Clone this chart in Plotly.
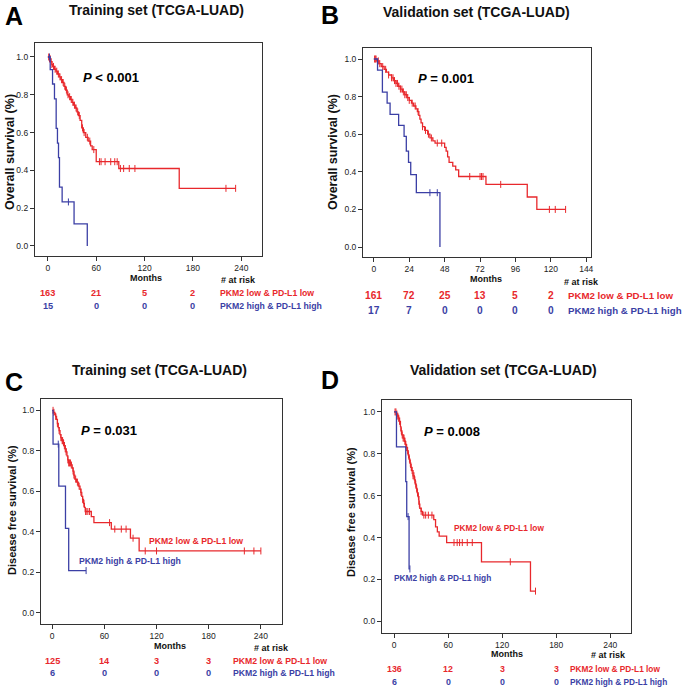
import numpy as np
import plotly.graph_objects as go

W, H = 685, 689
RED = "#e8282c"
BLUE = "#3b3fa5"
FONT = "Liberation Sans, Arial, sans-serif"

# ---------------- Panel A: OS training ----------------
a_red_t = [0, 2, 4, 5, 6, 8, 10, 12, 14, 16, 18, 20, 22, 24, 26, 28, 30, 32, 34, 36, 38, 40, 42, 44, 47, 50, 53, 55, 60, 88, 163]
a_red_s = [1.0, 0.99, 0.975, 0.96, 0.95, 0.935, 0.925, 0.91, 0.895, 0.88, 0.865, 0.845, 0.825, 0.80, 0.79, 0.775, 0.76, 0.745, 0.73, 0.71, 0.69, 0.665, 0.625, 0.60, 0.575, 0.555, 0.53, 0.51, 0.446, 0.41, 0.305]
a_red_end = 233
a_red_cens = [1, 2, 3, 5, 7, 9, 11, 13, 15, 17, 19, 21, 23, 25, 27, 29, 31, 33, 35, 37, 39, 43, 45, 49, 52, 57, 64, 66, 71, 78, 83, 86, 90, 94, 101, 108, 221, 233]
a_blue_t = [0, 2.9, 5.8, 8.2, 10.3, 11.9, 13.2, 14.4, 17.7, 32.5, 48.9]
a_blue_s = [1.0, 0.933, 0.857, 0.778, 0.622, 0.544, 0.467, 0.311, 0.233, 0.117, 0.0]
a_blue_end = 48.9
a_blue_cens = [2, 25.5]
a_risk_t = [0, 60, 120, 180]
a_risk_red = [163, 21, 5, 2]
a_risk_blue = [15, 0, 0, 0]
a_ticks = [0, 60, 120, 180, 240]

# ---------------- Panel B: OS validation ----------------
b_red_t = [0, 2, 3.5, 5, 7, 8.5, 10, 12, 13.5, 15, 16.5, 18, 19.5, 21, 22.5, 24, 25.5, 27, 28.5, 29.5, 30.5, 31.2, 32, 33, 34.5, 36.5, 38, 40, 41.5, 48, 49, 50, 51, 53.5, 55.5, 57.5, 76, 104, 110.5]
b_red_s = [1.0, 0.99, 0.975, 0.96, 0.945, 0.93, 0.915, 0.9, 0.885, 0.87, 0.855, 0.84, 0.825, 0.81, 0.795, 0.78, 0.765, 0.75, 0.735, 0.72, 0.70, 0.68, 0.66, 0.64, 0.62, 0.60, 0.58, 0.565, 0.553, 0.53, 0.51, 0.48, 0.45, 0.43, 0.41, 0.375, 0.333, 0.266, 0.2]
b_red_end = 130
b_red_cens = [0.5, 1, 1.5, 3, 4, 6, 8, 10, 12, 13, 14, 15, 16, 17, 18, 19, 20, 21, 22, 23, 24, 26, 28, 30, 33, 35, 37, 39, 43, 46, 65, 72, 73, 74, 86, 119, 123, 130]
b_blue_t = [0, 2.5, 5.8, 9, 11, 16.8, 20.5, 22, 23.5, 25, 28.8, 44.8]
b_blue_s = [1.0, 0.941, 0.824, 0.765, 0.706, 0.647, 0.588, 0.51, 0.45, 0.385, 0.289, 0.0]
b_blue_end = 44.8
b_blue_cens = [38, 43]
b_risk_t = [0, 24, 48, 72, 96, 120]
b_risk_red = [161, 72, 25, 13, 5, 2]
b_risk_blue = [17, 7, 0, 0, 0, 0]
b_ticks = [0, 24, 48, 72, 96, 120, 144]

# ---------------- Panel C: DFS training ----------------
c_red_t = [0, 1.5, 3, 4, 5, 6, 7, 8, 9, 10, 11, 13, 14, 15, 16, 17, 18, 19, 22, 23, 24, 25, 26, 28, 30, 32, 33, 34, 35, 36, 37, 38, 45, 48, 68, 90, 100]
c_red_s = [1.0, 0.99, 0.98, 0.97, 0.955, 0.935, 0.915, 0.9, 0.88, 0.865, 0.85, 0.84, 0.825, 0.81, 0.795, 0.775, 0.755, 0.74, 0.73, 0.715, 0.70, 0.68, 0.66, 0.645, 0.625, 0.61, 0.595, 0.575, 0.56, 0.54, 0.52, 0.5, 0.475, 0.445, 0.413, 0.368, 0.305]
c_red_end = 240
c_red_cens = [1, 2, 4, 6, 8, 10, 11.5, 12, 13, 14, 15, 16, 18, 19, 20, 21, 22, 24, 25, 27, 29, 31, 33, 35, 36.5, 38.5, 39, 41, 43, 66, 72, 79.5, 85, 93, 107, 120, 221, 232, 240]
c_blue_t = [0, 1, 7.6, 15.3, 19]
c_blue_s = [1.0, 0.833, 0.625, 0.417, 0.208]
c_blue_end = 39
c_blue_cens = [7, 39]
c_risk_t = [0, 60, 120, 180]
c_risk_red = [125, 14, 3, 3]
c_risk_blue = [6, 0, 0, 0]
c_ticks = [0, 60, 120, 180, 240]

# ---------------- Panel D: DFS validation ----------------
d_red_t = [0, 2.5, 4, 5, 6, 7, 7.5, 8.5, 10, 11.5, 12.5, 13.5, 14.5, 15.5, 16.5, 17.5, 18.5, 19.5, 21, 22.5, 23.5, 24.5, 25.5, 26.5, 27.5, 28.5, 30, 31.5, 44, 46, 48, 50, 58.3, 97, 151.4]
d_red_s = [1.0, 0.99, 0.98, 0.97, 0.955, 0.93, 0.91, 0.89, 0.875, 0.86, 0.845, 0.83, 0.815, 0.795, 0.775, 0.755, 0.735, 0.72, 0.695, 0.675, 0.655, 0.635, 0.615, 0.595, 0.56, 0.54, 0.525, 0.507, 0.486, 0.451, 0.427, 0.407, 0.376, 0.284, 0.144]
d_red_end = 157
d_red_cens = [1, 2, 3, 4, 5, 6, 8, 9, 10, 11, 12, 13, 14, 15, 16, 17, 18, 19, 20, 21, 22, 23, 24, 25, 26, 27, 28, 30, 33, 35, 38, 42, 66.5, 70, 72.7, 75.7, 81.2, 86.8, 129, 157]
d_blue_t = [0, 2.6, 12.9, 14, 16.6]
d_blue_s = [1.0, 0.833, 0.667, 0.5, 0.25]
d_blue_end = 17.5
d_blue_cens = [15.5, 17.5]
d_risk_t = [0, 60, 120, 180]
d_risk_red = [136, 12, 3, 3]
d_risk_blue = [6, 0, 0, 0]
d_ticks = [0, 60, 120, 180, 240]

titles = ["Training set (TCGA-LUAD)", "Validation set (TCGA-LUAD)",
          "Training set (TCGA-LUAD)", "Validation set (TCGA-LUAD)"]
letters = ["A", "B", "C", "D"]
pvals = ["<b><i>P</i> &lt; 0.001</b>", "<b><i>P</i> = 0.001</b>",
         "<b><i>P</i> = 0.031</b>", "<b><i>P</i> = 0.008</b>"]
ytitles = ["Overall survival (%)", "Overall survival (%)",
           "Disease free survival (%)", "Disease free survival (%)"]
lab_low = "PKM2 low & PD-L1 low"
lab_high = "PKM2 high & PD-L1 high"

# ---------------- layout geometry (pixels) ----------------
panels = [
    dict(box=(35, 43, 263, 256), xr=(-16.1, 266), yr=(-0.053, 1.074), ticks=a_ticks,
         red=(a_red_t, a_red_s, a_red_end, a_red_cens), blue=(a_blue_t, a_blue_s, a_blue_end, a_blue_cens),
         risk=(a_risk_t, a_risk_red, a_risk_blue), title=(157, 10), letter=(14, 16), p=(81, 78),
         ytit=(10, 152), months=(146, 278), atrisk=(239, 280), rows=(293, 306), leg_x=219, fs=8.7,
         inlab=None),
    dict(box=(364, 48, 593, 257), xr=(-7.4, 147.4), yr=(-0.053, 1.0585), ticks=b_ticks,
         red=(b_red_t, b_red_s, b_red_end, b_red_cens), blue=(b_blue_t, b_blue_s, b_blue_end, b_blue_cens),
         risk=(b_risk_t, b_risk_red, b_risk_blue), title=(478, 12), letter=(331, 15), p=(417, 79),
         ytit=(334, 152), months=(487, 279), atrisk=(583, 282), rows=(295, 311), leg_x=568, fs=9.7,
         inlab=None),
    dict(box=(41, 399, 283, 624), xr=(-13, 264.5), yr=(-0.056, 1.056), ticks=c_ticks,
         red=(c_red_t, c_red_s, c_red_end, c_red_cens), blue=(c_blue_t, c_blue_s, c_blue_end, c_blue_cens),
         risk=(c_risk_t, c_risk_red, c_risk_blue), title=(160, 370), letter=(14, 382), p=(79, 430),
         ytit=(12, 510), months=(170, 646), atrisk=(272, 648), rows=(661, 673), leg_x=232, fs=8.7,
         inlab=((147, 541), (77, 561))),
    dict(box=(383, 400, 633, 633), xr=(-13.6, 263.2), yr=(-0.056, 1.057), ticks=d_ticks,
         red=(d_red_t, d_red_s, d_red_end, d_red_cens), blue=(d_blue_t, d_blue_s, d_blue_end, d_blue_cens),
         risk=(d_risk_t, d_risk_red, d_risk_blue), title=(505, 370), letter=(331, 380), p=(423, 431),
         ytit=(352, 512), months=(508, 654), atrisk=(610, 655), rows=(669, 682), leg_x=570, fs=8.3,
         inlab=((453, 528), (393, 578))),
]


def fx(x):
    return x / W


def fy(y):
    return 1 - y / H


def steps(t, s, end):
    xs = list(t)
    ys = list(s)
    if end > xs[-1]:
        xs.append(end)
        ys.append(ys[-1])
    return xs, ys


def cens_y(t, s, c):
    idx = np.searchsorted(np.array(t), np.array(c), side="right") - 1
    return [s[i] for i in idx]


fig = go.Figure()
annotations = []

for i, P in enumerate(panels):
    k = "" if i == 0 else str(i + 1)
    xa, ya = "x" + k, "y" + k
    x0, y0, x1, y1 = P["box"]
    for (t, s, end, cens), col in ((P["red"], RED), (P["blue"], BLUE)):
        xs, ys = steps(t, s, end)
        fig.add_trace(go.Scatter(x=xs, y=ys, mode="lines", line=dict(color=col, width=1.3, shape="hv"),
                                 xaxis=xa, yaxis=ya, showlegend=False, hoverinfo="skip"))
        fig.add_trace(go.Scatter(x=cens, y=cens_y(t, s, cens), mode="markers",
                                 marker=dict(symbol="line-ns", size=5, line=dict(color=col, width=1)),
                                 xaxis=xa, yaxis=ya, showlegend=False, hoverinfo="skip"))
    axis_common = dict(showline=True, mirror=True, linecolor="#333", linewidth=1, showgrid=False,
                       zeroline=False, ticks="outside", ticklen=4, tickwidth=1, tickcolor="#333",
                       tickfont=dict(family=FONT, size=8.5, color="#222"))
    fig.update_layout(**{
        "xaxis" + k: dict(domain=[fx(x0), fx(x1)], range=list(P["xr"]), tickvals=P["ticks"],
                          anchor=ya, **axis_common),
        "yaxis" + k: dict(domain=[fy(y1), fy(y0)], range=list(P["yr"]),
                          tickvals=[0, 0.2, 0.4, 0.6, 0.8, 1.0], tickformat=".1f",
                          anchor=xa, **axis_common),
    })
    annotations.append(dict(x=fx(P["title"][0]), y=fy(P["title"][1]), xref="paper", yref="paper",
                            text="<b>" + titles[i] + "</b>", showarrow=False,
                            font=dict(family=FONT, size=14, color="#111"), xanchor="center", yanchor="middle"))
    annotations.append(dict(x=fx(P["letter"][0]), y=fy(P["letter"][1]), xref="paper", yref="paper",
                            text="<b>" + letters[i] + "</b>", showarrow=False,
                            font=dict(family=FONT, size=25, color="#000"), xanchor="center", yanchor="middle"))
    annotations.append(dict(x=fx(P["p"][0]), y=fy(P["p"][1]), xref="paper", yref="paper",
                            text=pvals[i], showarrow=False,
                            font=dict(family=FONT, size=13, color="#000"), xanchor="left", yanchor="middle"))
    annotations.append(dict(x=fx(P["ytit"][0]), y=fy(P["ytit"][1]), xref="paper", yref="paper",
                            text="<b>" + ytitles[i] + "</b>", showarrow=False, textangle=-90,
                            font=dict(family=FONT, size=12.5 if i < 2 else 11, color="#111"),
                            xanchor="center", yanchor="middle"))
    annotations.append(dict(x=fx(P["months"][0]), y=fy(P["months"][1]), xref="paper", yref="paper",
                            text="<b>Months</b>", showarrow=False,
                            font=dict(family=FONT, size=9, color="#111"), xanchor="center", yanchor="middle"))
    annotations.append(dict(x=fx(P["atrisk"][0]), y=fy(P["atrisk"][1]), xref="paper", yref="paper",
                            text="<b># at risk</b>", showarrow=False,
                            font=dict(family=FONT, size=9, color="#111"), xanchor="center", yanchor="middle"))
    rt, rr, rb = P["risk"]
    for tt, nr, nb in zip(rt, rr, rb):
        annotations.append(dict(x=tt, y=fy(P["rows"][0]), xref=xa, yref="paper", text="<b>%d</b>" % nr,
                                showarrow=False, font=dict(family=FONT, size=P["fs"] + 0.5, color=RED),
                                xanchor="center", yanchor="middle"))
        annotations.append(dict(x=tt, y=fy(P["rows"][1]), xref=xa, yref="paper", text="<b>%d</b>" % nb,
                                showarrow=False, font=dict(family=FONT, size=P["fs"] + 0.5, color=BLUE),
                                xanchor="center", yanchor="middle"))
    annotations.append(dict(x=fx(P["leg_x"]), y=fy(P["rows"][0]), xref="paper", yref="paper",
                            text="<b>" + lab_low + "</b>", showarrow=False,
                            font=dict(family=FONT, size=P["fs"], color=RED), xanchor="left", yanchor="middle"))
    annotations.append(dict(x=fx(P["leg_x"]), y=fy(P["rows"][1]), xref="paper", yref="paper",
                            text="<b>" + lab_high + "</b>", showarrow=False,
                            font=dict(family=FONT, size=P["fs"], color=BLUE), xanchor="left", yanchor="middle"))
    if P["inlab"]:
        (lx, ly), (hx, hy) = P["inlab"]
        annotations.append(dict(x=fx(lx), y=fy(ly), xref="paper", yref="paper",
                                text="<b>" + lab_low + "</b>", showarrow=False,
                                font=dict(family=FONT, size=P["fs"], color=RED), xanchor="left", yanchor="middle"))
        annotations.append(dict(x=fx(hx), y=fy(hy), xref="paper", yref="paper",
                                text="<b>" + lab_high + "</b>", showarrow=False,
                                font=dict(family=FONT, size=P["fs"], color=BLUE), xanchor="left", yanchor="middle"))

fig.update_layout(width=W, height=H, margin=dict(l=0, r=0, t=0, b=0),
                  paper_bgcolor="white", plot_bgcolor="white",
                  annotations=annotations, showlegend=False)

fig.write_html("out.html", config={"displayModeBar": False},
               post_script="document.body.style.margin='0px';document.body.style.padding='0px';")
